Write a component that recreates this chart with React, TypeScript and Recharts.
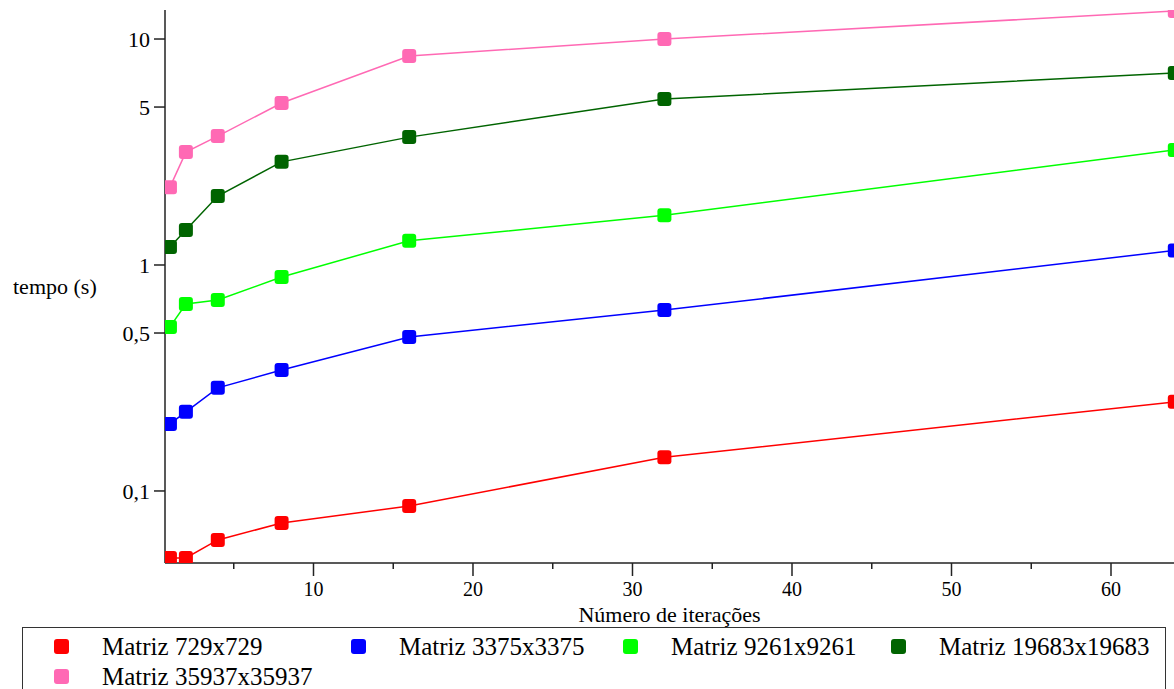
import { LineChart, Line, XAxis, YAxis, Legend } from "recharts";

const iteracoes = [1, 2, 4, 8, 16, 32, 64];

// tempos em segundos (escala log)
const m729 = [0.0505, 0.0505, 0.0607, 0.0721, 0.0858, 0.141, 0.248];
const m3375 = [0.198, 0.224, 0.286, 0.343, 0.48, 0.632, 1.16];
const m9261 = [0.532, 0.672, 0.7, 0.885, 1.28, 1.66, 3.23];
const m19683 = [1.2, 1.43, 2.02, 2.86, 3.68, 5.43, 7.07];
const m35937 = [2.21, 3.16, 3.72, 5.21, 8.41, 10.0, 13.3];

const seriesNames = [
  "Matriz 729x729",
  "Matriz 3375x3375",
  "Matriz 9261x9261",
  "Matriz 19683x19683",
  "Matriz 35937x35937",
];
const seriesKeys = ["m729", "m3375", "m9261", "m19683", "m35937"];
const seriesColors = ["#ff0000", "#0000ff", "#00ff00", "#006400", "#ff69b4"];

const xTicks = [5, 10, 15, 20, 25, 30, 35, 40, 45, 50, 55, 60];
const yTicks = [0.1, 0.5, 1, 5, 10];

const data = iteracoes.map((it, i) => ({
  it,
  m729: m729[i],
  m3375: m3375[i],
  m9261: m9261[i],
  m19683: m19683[i],
  m35937: m35937[i],
}));

const FONT = '"Liberation Serif", "Times New Roman", serif';

function SquareDot(props: any) {
  const { cx, cy, color, index } = props;
  if (cx == null || cy == null) return <g key={index} />;
  return <rect key={index} x={cx - 7} y={cy - 7} width={14} height={14} rx={3} fill={color} />;
}

function XTick({ x, y, payload }: any) {
  const major = payload.value % 10 === 0;
  return (
    <g>
      <line x1={x} x2={x} y1={y} y2={y + (major ? 13 : 6)} stroke="#222" strokeWidth={1.5} />
      {major && (
        <text x={x} y={y + 28} textAnchor="middle" dominantBaseline="middle" fontSize={20} fill="#000">
          {payload.value}
        </text>
      )}
    </g>
  );
}

function LegendBox() {
  return (
    <div
      style={{
        boxSizing: "border-box",
        width: 1144,
        height: 80,
        border: "1.5px solid #333",
        background: "#fff",
        paddingLeft: 31,
        paddingTop: 3,
        display: "grid",
        gridTemplateColumns: "297px 272px 268px 1fr",
        gridAutoRows: "30px",
        fontFamily: FONT,
        fontSize: 25,
        color: "#000",
      }}
    >
      {seriesNames.map((name, i) => (
        <div key={name} style={{ display: "flex", alignItems: "center" }}>
          <span
            style={{
              display: "inline-block",
              width: 15,
              height: 15,
              borderRadius: 3,
              background: seriesColors[i],
              marginRight: 33,
            }}
          />
          <span style={{ whiteSpace: "nowrap", lineHeight: 1 }}>{name}</span>
        </div>
      ))}
    </div>
  );
}

export default function App() {
  return (
    <div
      style={{
        position: "absolute",
        left: 0,
        top: 0,
        width: 1174,
        height: 689,
        overflow: "hidden",
        background: "#fff",
        fontFamily: FONT,
      }}
    >
      <LineChart width={1174} height={689} data={data} margin={{ top: 10, right: 0, bottom: 0, left: 0 }}>
        <XAxis
          dataKey="it"
          type="number"
          domain={[0.69, 63.95]}
          allowDataOverflow
          ticks={xTicks}
          interval={0}
          tickSize={0}
          tickMargin={0}
          tickLine={false}
          tick={(p: any) => <XTick {...p} />}
          axisLine={{ stroke: "#222", strokeWidth: 1.5 }}
          height={126}
          label={{ value: "Número de iterações", position: "insideTop", offset: 43, fontSize: 22, fill: "#000" }}
        />
        <YAxis
          type="number"
          scale="log"
          domain={[0.048, 13.44]}
          allowDataOverflow
          ticks={yTicks}
          interval={0}
          width={165}
          tickSize={11}
          tickMargin={4}
          tickLine={{ stroke: "#222", strokeWidth: 1.5 }}
          axisLine={{ stroke: "#222", strokeWidth: 1.5 }}
          tick={{ fontSize: 22, fill: "#000" }}
          tickFormatter={(v: number) => String(v).replace(".", ",")}
          label={{ value: "tempo (s)", position: "insideLeft", offset: 13, angle: 0, fontSize: 22, fill: "#000" }}
        />
        <Legend
          layout="horizontal"
          verticalAlign="middle"
          align="center"
          wrapperStyle={{ left: 22, top: 627, width: 1144 }}
          content={() => <LegendBox />}
        />
        {seriesKeys.map((k, i) => (
          <Line
            key={k}
            type="linear"
            dataKey={k}
            name={seriesNames[i]}
            stroke={seriesColors[i]}
            strokeWidth={1.5}
            dot={(p: any) => <SquareDot {...p} key={p.index} color={seriesColors[i]} />}
            activeDot={false}
            isAnimationActive={false}
          />
        ))}
      </LineChart>
    </div>
  );
}
